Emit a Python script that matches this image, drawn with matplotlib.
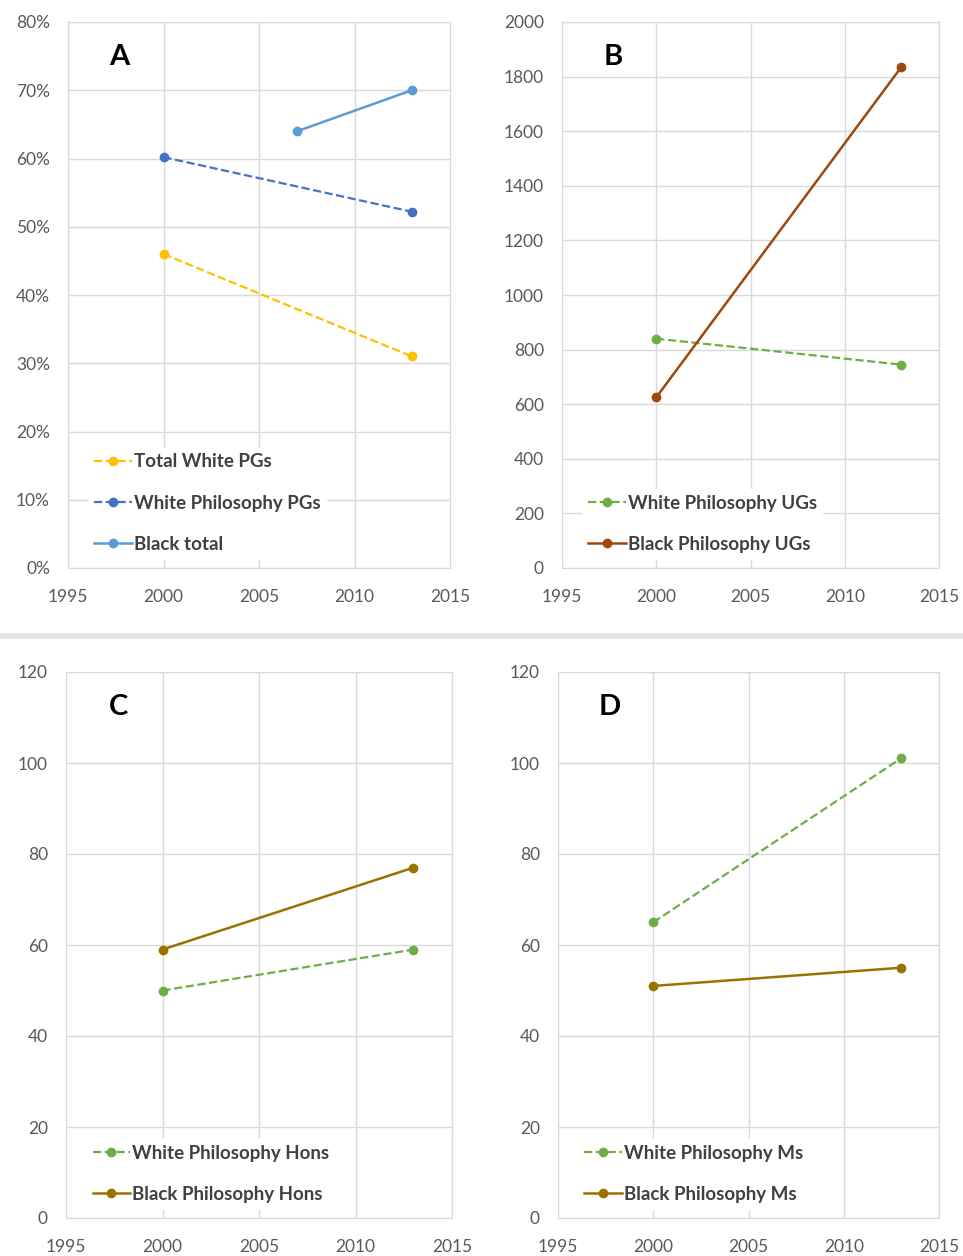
import matplotlib.pyplot as plt
from matplotlib.patches import Rectangle
from matplotlib.ticker import FuncFormatter

plt.rcParams['font.family'] = ['Lato', 'DejaVu Sans']

# Panel A : proportions (%)
a_years_white = [2000, 2013]
a_total_white_pg = [46, 31]
a_white_phil_pg = [60.2, 52.2]
a_years_black = [2007, 2013]
a_black_total = [64, 70]

# Panel B : undergraduates
b_years = [2000, 2013]
b_white_phil_ug = [840, 745]
b_black_phil_ug = [625, 1835]

# Panel C : honours
c_years = [2000, 2013]
c_white_hons = [50, 59]
c_black_hons = [59, 77]

# Panel D : masters
d_years = [2000, 2013]
d_white_ms = [65, 101]
d_black_ms = [51, 55]

x_ticks = [1995, 2000, 2005, 2010, 2015]

fig = plt.figure(figsize=(9.63, 12.56), dpi=100)

# bande grise entre les deux rangées
fig.patches.append(Rectangle((0, 1 - 639/1256), 1, 6/1256, transform=fig.transFigure,
                             facecolor='#E6E6E6', edgecolor='none'))

axA = fig.add_axes([68/963, 1 - 568/1256, 382/963, 546/1256])
axB = fig.add_axes([562/963, 1 - 568/1256, 377/963, 546/1256])
axC = fig.add_axes([66/963, 1 - 1218/1256, 386/963, 546/1256])
axD = fig.add_axes([558/963, 1 - 1218/1256, 381/963, 546/1256])

def style(ax, ymax, ystep):
    ax.set_xlim(1995, 2015)
    ax.set_ylim(0, ymax)
    ax.set_xticks(x_ticks)
    ax.set_yticks(range(0, ymax + 1, ystep))
    ax.grid(True, color='#D9D9D9', linewidth=1)
    ax.set_axisbelow(True)
    for s in ax.spines.values():
        s.set_color('#D9D9D9')
    ax.tick_params(length=0, labelsize=12.5, labelcolor='#595959')
    ax.tick_params(axis='x', pad=15)
    ax.tick_params(axis='y', pad=13)

def legende(ax):
    leg = ax.legend(loc='lower left', bbox_to_anchor=(0.03, 0.0), fontsize=13.5,
                    frameon=True, fancybox=False, edgecolor='white', facecolor='white',
                    framealpha=1, labelspacing=1.3, handlelength=2.0, handletextpad=0.1,
                    borderpad=0.3, labelcolor='#404040')
    for t in leg.get_texts():
        t.set_fontweight('bold')

def lettre(ax, s):
    ax.text(0.135, 0.935, s, transform=ax.transAxes, fontsize=21, fontweight='bold',
            ha='center', va='center', color='black')

# A
style(axA, 80, 10)
axA.yaxis.set_major_formatter(FuncFormatter(lambda v, p: f'{v:.0f}%'))
axA.plot(a_years_white, a_total_white_pg, '--o', color='#FFC000', lw=1.6, ms=6,
         label='Total White PGs')
axA.plot(a_years_white, a_white_phil_pg, '--o', color='#4472C4', lw=1.6, ms=6,
         label='White Philosophy PGs')
axA.plot(a_years_black, a_black_total, '-o', color='#5B9BD5', lw=1.8, ms=6,
         label='Black total')
legende(axA)
lettre(axA, 'A')

# B
style(axB, 2000, 200)
axB.plot(b_years, b_white_phil_ug, '--o', color='#70AD47', lw=1.6, ms=6,
         label='White Philosophy UGs')
axB.plot(b_years, b_black_phil_ug, '-o', color='#9E480E', lw=1.8, ms=6,
         label='Black Philosophy UGs')
legende(axB)
lettre(axB, 'B')

# C
style(axC, 120, 20)
axC.plot(c_years, c_white_hons, '--o', color='#70AD47', lw=1.6, ms=6,
         label='White Philosophy Hons')
axC.plot(c_years, c_black_hons, '-o', color='#997300', lw=1.8, ms=6,
         label='Black Philosophy Hons')
legende(axC)
lettre(axC, 'C')

# D
style(axD, 120, 20)
axD.plot(d_years, d_white_ms, '--o', color='#70AD47', lw=1.6, ms=6,
         label='White Philosophy Ms')
axD.plot(d_years, d_black_ms, '-o', color='#997300', lw=1.8, ms=6,
         label='Black Philosophy Ms')
legende(axD)
lettre(axD, 'D')

plt.savefig('out.png', dpi=100)
